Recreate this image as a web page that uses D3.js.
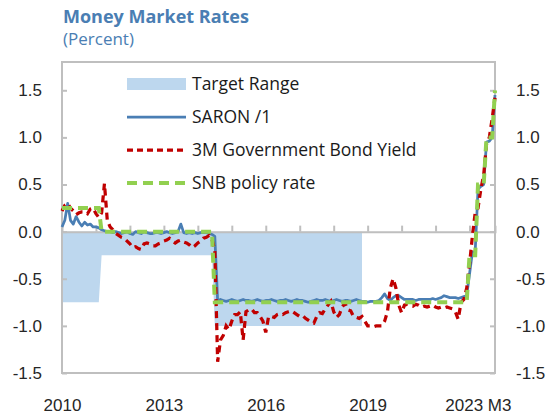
<!DOCTYPE html>
<html>
<head>
<meta charset="utf-8">
<script src="https://cdn.jsdelivr.net/npm/d3@7"></script>
<style>
body { margin: 0; background: #fff; }
svg { display: block; font-family: "Open Sans", sans-serif; }
</style>
</head>
<body>
<script>
// monthly observations, Jun 2010 .. Mar 2023 (one row per year)
const saron = [
  0.05, 0.12, 0.30, 0.12, 0.08, 0.16, 0.10,
  0.06, 0.10, 0.07, 0.08, 0.05, 0.05, 0.04, 0.02, 0.01, 0.00, 0.00, -0.01,
  0.00, -0.01, -0.02, -0.01, 0.00, -0.02, -0.03, 0.00, -0.01, -0.02, 0.00, -0.01,
  -0.02, -0.02, -0.01, -0.01, -0.02, -0.01, 0.00, -0.01, -0.02, -0.01, 0.00, 0.08,
  -0.01, -0.02, -0.01, -0.02, -0.01, -0.02, -0.01, -0.01, -0.01, -0.02, -0.03, -0.05,
  -0.74, -0.72, -0.73, -0.74, -0.73, -0.72, -0.73, -0.74, -0.73, -0.72, -0.73, -0.73,
  -0.74, -0.73, -0.72, -0.73, -0.74, -0.73, -0.73, -0.72, -0.73, -0.74, -0.73, -0.73,
  -0.72, -0.73, -0.74, -0.73, -0.72, -0.73, -0.73, -0.74, -0.75, -0.74, -0.73, -0.72,
  -0.73, -0.73, -0.72, -0.73, -0.74, -0.73, -0.72, -0.73, -0.74, -0.73, -0.73, -0.74,
  -0.73, -0.72, -0.73, -0.74, -0.74, -0.75, -0.74, -0.74, -0.74, -0.73, -0.70, -0.66,
  -0.71, -0.73, -0.70, -0.68, -0.68, -0.70, -0.72, -0.72, -0.72, -0.72, -0.73, -0.72,
  -0.72, -0.72, -0.72, -0.72, -0.71, -0.72, -0.71, -0.70, -0.68, -0.69, -0.70, -0.70,
  -0.70, -0.71, -0.70, -0.69, -0.68, -0.45, -0.22, -0.21, 0.45, 0.48, 0.50, 0.95,
  0.96, 1.00, 1.45
];

const bond3m = [
  0.22, 0.28, 0.30, 0.25, 0.22, 0.18, 0.20,
  0.21, 0.21, 0.19, 0.24, 0.25, 0.19, 0.15, 0.20, 0.51, 0.12, 0.05, 0.02,
  -0.02, -0.04, -0.06, -0.07, -0.10, -0.13, -0.17, -0.16, -0.18, -0.19, -0.13, -0.12,
  -0.13, -0.15, -0.15, -0.13, -0.12, -0.10, -0.09, -0.07, -0.10, -0.12, -0.10, -0.09,
  -0.11, -0.12, -0.14, -0.17, -0.15, -0.12, -0.10, -0.07, -0.06, -0.04, -0.08, -0.20,
  -1.38, -1.15, -1.10, -1.00, -1.04, -0.95, -0.88, -0.88, -0.85, -1.15, -0.85, -0.83,
  -0.82, -0.86, -0.86, -0.90, -0.95, -1.07, -0.90, -0.90, -0.91, -0.88, -0.87, -0.88,
  -0.86, -0.85, -0.84, -0.86, -0.88, -0.90, -0.89, -0.92, -0.94, -0.96, -0.97, -0.90,
  -0.86, -0.87, -0.82, -0.78, -0.74, -0.85, -0.91, -0.88, -0.80, -0.76, -0.83, -0.84,
  -0.90, -0.91, -0.92, -0.90, -0.95, -1.00, -1.00, -1.01, -1.00, -1.00, -1.00, -0.95,
  -0.85, -0.60, -0.50, -0.60, -0.78, -0.86, -0.78, -0.77, -0.78, -0.79, -0.77, -0.78,
  -0.80, -0.79, -0.80, -0.79, -0.78, -0.80, -0.81, -0.80, -0.81, -0.80, -0.81, -0.82,
  -0.85, -0.93, -0.75, -0.72, -0.60, -0.35, -0.05, 0.20, 0.25, 0.45, 0.60, 0.93,
  1.00, 1.20, 1.42
];

const policyRate = [
  0.25, 0.25, 0.25, 0.25, 0.25, 0.25, 0.25,
  0.25, 0.25, 0.25, 0.25, 0.25, 0.25, 0.25, 0, 0, 0, 0, 0,
  0, 0, 0, 0, 0, 0, 0, 0, 0, 0, 0, 0,
  0, 0, 0, 0, 0, 0, 0, 0, 0, 0, 0, 0,
  0, 0, 0, 0, 0, 0, 0, 0, 0, 0, 0, -0.75,
  -0.75, -0.75, -0.75, -0.75, -0.75, -0.75, -0.75, -0.75, -0.75, -0.75, -0.75, -0.75,
  -0.75, -0.75, -0.75, -0.75, -0.75, -0.75, -0.75, -0.75, -0.75, -0.75, -0.75, -0.75,
  -0.75, -0.75, -0.75, -0.75, -0.75, -0.75, -0.75, -0.75, -0.75, -0.75, -0.75, -0.75,
  -0.75, -0.75, -0.75, -0.75, -0.75, -0.75, -0.75, -0.75, -0.75, -0.75, -0.75, -0.75,
  -0.75, -0.75, -0.75, -0.75, -0.75, -0.75, -0.75, -0.75, -0.75, -0.75, -0.75, -0.75,
  -0.75, -0.75, -0.75, -0.75, -0.75, -0.75, -0.75, -0.75, -0.75, -0.75, -0.75, -0.75,
  -0.75, -0.75, -0.75, -0.75, -0.75, -0.75, -0.75, -0.75, -0.75, -0.75, -0.75, -0.75,
  -0.75, -0.75, -0.75, -0.75, -0.75, -0.25, -0.25, -0.25, 0.5, 0.5, 0.5, 1.0,
  1.0, 1.0, 1.5
];

// target range as drawn: band between 0 and this value (ends mid 2019)
const targetLow = [
  -0.75, -0.75, -0.75, -0.75, -0.75, -0.75, -0.75,
  -0.75, -0.75, -0.75, -0.75, -0.75, -0.75, -0.75, -0.25, -0.25, -0.25, -0.25, -0.25,
  -0.25, -0.25, -0.25, -0.25, -0.25, -0.25, -0.25, -0.25, -0.25, -0.25, -0.25, -0.25,
  -0.25, -0.25, -0.25, -0.25, -0.25, -0.25, -0.25, -0.25, -0.25, -0.25, -0.25, -0.25,
  -0.25, -0.25, -0.25, -0.25, -0.25, -0.25, -0.25, -0.25, -0.25, -0.25, -0.25, -1.0,
  -1.0, -1.0, -1.0, -1.0, -1.0, -1.0, -1.0, -1.0, -1.0, -1.0, -1.0, -1.0,
  -1.0, -1.0, -1.0, -1.0, -1.0, -1.0, -1.0, -1.0, -1.0, -1.0, -1.0, -1.0,
  -1.0, -1.0, -1.0, -1.0, -1.0, -1.0, -1.0, -1.0, -1.0, -1.0, -1.0, -1.0,
  -1.0, -1.0, -1.0, -1.0, -1.0, -1.0, -1.0, -1.0, -1.0, -1.0, -1.0, -1.0,
  -1.0, -1.0, -1.0, -1.0, null, null, null, null, null, null, null, null
];

const yTicks = [-1.5, -1.0, -0.5, 0, 0.5, 1.0, 1.5];
const xLabelIdx = [0, 36, 72, 108, 153];
const xLabels = ["2010", "2013", "2016", "2019", "2023 M3"];
const yearTickIdx = d3.range(12, 154, 12);
const legendNames = ["Target Range", "SARON /1", "3M Government Bond Yield", "SNB policy rate"];

const margin = { top: 62, right: 52, bottom: 42, left: 62 },
    width = 547 - margin.left - margin.right,
    height = 415 - margin.top - margin.bottom;

const blue = "#4a7eb4", red = "#c00000", green = "#92d050", band = "#bdd7ee", grid = "#bfbfbf";

const root = d3.select("body").append("svg")
    .attr("width", 547)
    .attr("height", 415);

root.append("text")
    .attr("x", 63).attr("y", 23)
    .style("font-size", "18px").style("font-weight", "bold")
    .attr("fill", "#4a7eb3")
    .text("Money Market Rates");

root.append("text")
    .attr("x", 63).attr("y", 45)
    .style("font-size", "17px")
    .attr("fill", "#4a7eb3")
    .text("(Percent)");

const svg = root.append("g")
    .attr("transform", `translate(${margin.left},${margin.top})`);

const x = d3.scaleLinear().domain([0, saron.length - 1]).range([0, width]);
const y = d3.scaleLinear().domain([-1.5, 1.8]).range([height, 0]);

// target range band
svg.append("path")
    .datum(targetLow)
    .attr("fill", band)
    .attr("d", d3.area()
        .defined(d => d != null)
        .x((d, i) => x(i))
        .y0(y(0))
        .y1(d => y(d)));

// zero line with yearly ticks
const zero = svg.append("g")
    .attr("transform", `translate(0,${y(0)})`)
    .call(d3.axisBottom(x).tickValues(yearTickIdx).tickSize(-6).tickFormat(""));
zero.select(".domain").attr("stroke", grid).attr("stroke-width", 2);
zero.selectAll(".tick line").attr("stroke", grid).attr("stroke-width", 2);

// frame
svg.append("rect")
    .attr("width", width).attr("height", height)
    .attr("fill", "none")
    .attr("stroke", grid).attr("stroke-width", 2);

const fmt = d => d.toFixed(1);

const left = svg.append("g")
    .call(d3.axisLeft(y).tickValues(yTicks).tickSize(-5).tickPadding(20).tickFormat(fmt));
const right = svg.append("g")
    .attr("transform", `translate(${width},0)`)
    .call(d3.axisRight(y).tickValues(yTicks).tickSize(-5).tickPadding(21).tickFormat(fmt));
const bottom = svg.append("g")
    .attr("transform", `translate(0,${height})`)
    .call(d3.axisBottom(x).tickValues(xLabelIdx).tickSize(0).tickPadding(26)
        .tickFormat((d, i) => xLabels[i]));

[left, right, bottom].forEach(g => {
    g.select(".domain").remove();
    g.selectAll(".tick line").attr("stroke", grid).attr("stroke-width", 2);
    g.selectAll("text").attr("fill", "#262626").style("font-size", "17px");
});
bottom.selectAll(".tick text").filter((d, i, n) => i === n.length - 1)
    .attr("text-anchor", "end").attr("dx", 16);

const line = d3.line().x((d, i) => x(i)).y(d => y(d));

svg.append("path").datum(saron)
    .attr("fill", "none").attr("stroke", blue).attr("stroke-width", 2.75)
    .attr("stroke-linejoin", "round")
    .attr("d", line);

svg.append("path").datum(bond3m)
    .attr("fill", "none").attr("stroke", red).attr("stroke-width", 3.25)
    .attr("stroke-dasharray", "7,5")
    .attr("d", line);

svg.append("path").datum(policyRate)
    .attr("fill", "none").attr("stroke", green).attr("stroke-width", 4)
    .attr("stroke-dasharray", "10,6")
    .attr("d", line);

// legend
const legend = root.append("g");
const legendStyles = [
    { type: "rect", color: band },
    { type: "line", color: blue, w: 2.75, dash: null },
    { type: "line", color: red, w: 3.25, dash: "6,4" },
    { type: "line", color: green, w: 4, dash: "10,6" }
];
legendNames.forEach((name, i) => {
    const cy = 84 + i * 33;
    const s = legendStyles[i];
    if (s.type === "rect") {
        legend.append("rect")
            .attr("x", 127).attr("y", cy - 6)
            .attr("width", 59).attr("height", 12)
            .attr("fill", s.color);
    } else {
        legend.append("line")
            .attr("x1", 127).attr("x2", 186)
            .attr("y1", cy).attr("y2", cy)
            .attr("stroke", s.color).attr("stroke-width", s.w)
            .attr("stroke-dasharray", s.dash);
    }
    legend.append("text")
        .attr("x", 192).attr("y", cy + 6)
        .style("font-size", "17.5px")
        .attr("fill", "#1a1a1a")
        .text(name);
});
</script>
</body>
</html>
